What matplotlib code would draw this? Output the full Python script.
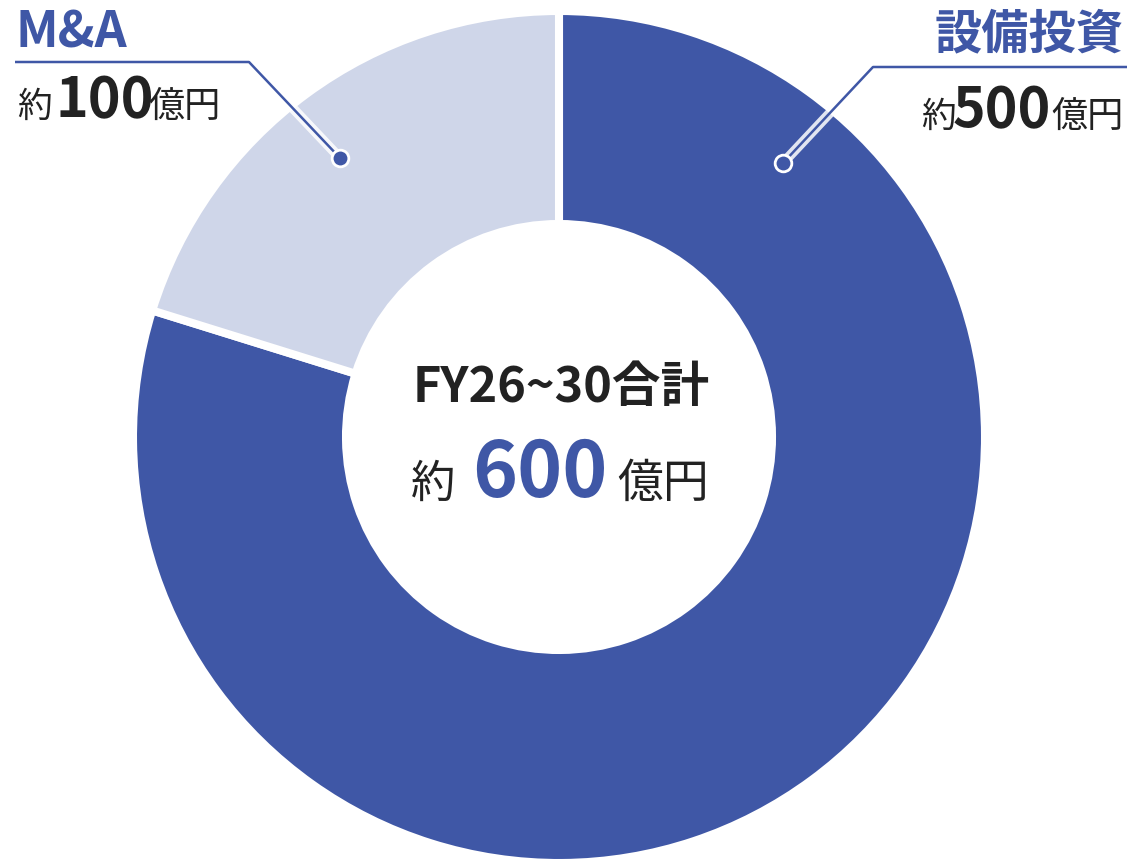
import matplotlib.pyplot as plt
import matplotlib.patheffects as pe

plt.rcParams['font.family'] = ['Noto Sans CJK JP', 'DejaVu Sans']

# data
categories = ['設備投資', 'M&A']
shares = [79.8, 20.2]          # share of ring
amount_labels = ['500', '100']  # 億円
total_label = '600'
period_label = 'FY26~30合計'

BLUE = '#3f57a6'
LIGHT = '#cfd6e9'
DARK = '#222222'

W, H = 1131, 860


def Y(y):
    # picture rows -> data y
    return H - y


fig = plt.figure(figsize=(W / 100, H / 100), dpi=100)
ax = fig.add_axes([0, 0, 1, 1])

# donut
ax.pie(shares, colors=[BLUE, LIGHT], startangle=90, counterclock=False,
       center=(559, Y(437)), radius=426,
       wedgeprops=dict(width=213, edgecolor='white', linewidth=5.8))
ax.set_xlim(0, W)
ax.set_ylim(0, H)
ax.set_aspect('equal')
ax.axis('off')

glow = [pe.Stroke(linewidth=7, foreground='white', alpha=0.85), pe.Normal()]

# leader lines
ax.plot([15, 249, 340], [Y(62), Y(62), Y(158)], color=BLUE, lw=1.8,
        solid_capstyle='butt', path_effects=glow, zorder=5)
ax.plot([1127, 873, 783], [Y(67), Y(67), Y(163)], color=BLUE, lw=1.8,
        solid_capstyle='butt', path_effects=glow, zorder=5)
ax.plot([340, 783], [Y(158), Y(163)], 'o', ms=12, color=BLUE,
        mec='white', mew=2, zorder=6)

# M&A label
ax.text(15, Y(48), categories[1], color=BLUE, fontsize=36, fontweight='bold',
        ha='left', va='baseline')
ax.text(17, Y(117), '約', color=DARK, fontsize=25, ha='left', va='baseline')
ax.text(55, Y(117), amount_labels[1], color=DARK, fontsize=40,
        fontweight='bold', ha='left', va='baseline')
ax.text(148, Y(117), '億円', color=DARK, fontsize=26, ha='left', va='baseline')

# 設備投資 label
ax.text(1124, Y(48), categories[0], color=BLUE, fontsize=34, fontweight='bold',
        ha='right', va='baseline')
ax.text(1124, Y(127), '億円', color=DARK, fontsize=26, ha='right', va='baseline')
ax.text(1051, Y(127), amount_labels[0], color=DARK, fontsize=40,
        fontweight='bold', ha='right', va='baseline')
ax.text(956, Y(127), '約', color=DARK, fontsize=25, ha='right', va='baseline')

# centre
ax.text(561, Y(402), period_label, color=DARK, fontsize=35, fontweight='bold',
        ha='center', va='baseline')
ax.text(540, Y(497), total_label, color=BLUE, fontsize=55, fontweight='bold',
        ha='center', va='baseline')
ax.text(455, Y(497), '約', color=DARK, fontsize=32, ha='right', va='baseline')
ax.text(617, Y(497), '億円', color=DARK, fontsize=33, ha='left', va='baseline')

fig.savefig('out.png', dpi=100, facecolor='white')
